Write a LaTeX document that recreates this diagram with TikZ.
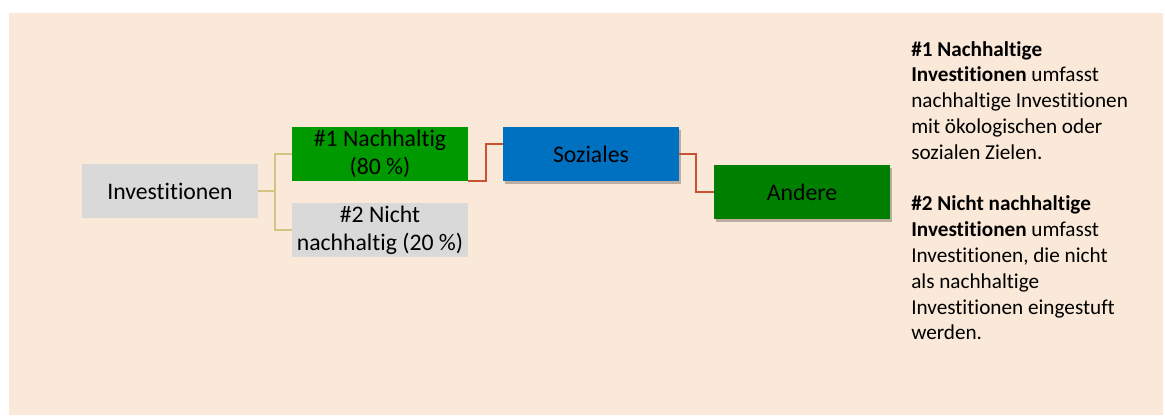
\documentclass[tikz,border=0pt]{standalone}
\usepackage{fontspec}
\setmainfont{Carlito}[Ligatures=NoCommon]
\usetikzlibrary{shadows}
\definecolor{bgpeach}{RGB}{250,232,216}
\definecolor{boxgray}{RGB}{217,217,217}
\definecolor{greenA}{RGB}{0,153,0}
\definecolor{greenB}{RGB}{0,128,0}
\definecolor{blueS}{RGB}{0,112,192}
\definecolor{khaki}{RGB}{212,196,130}
\definecolor{redline}{RGB}{200,82,50}
\tikzset{
  box/.style={rectangle, minimum width=132pt, minimum height=40.5pt, inner sep=0pt,
    align=center, font=\fontsize{17.8}{21}\selectfont, text=black},
  shadowed/.style={drop shadow={shadow xshift=1.6pt, shadow yshift=-2pt, opacity=0.25, fill=black}},
  khakiline/.style={draw=khaki, line width=1.3pt},
  redconn/.style={draw=redline, line width=1.5pt},
  noteline/.style={anchor=base west, inner sep=0pt, font=\fontsize{15.9}{19.4}\selectfont}
}
\begin{document}
\begin{tikzpicture}[x=0.75pt, y=-0.75pt]
\useasboundingbox (0,0) rectangle (1165,415);
\fill[bgpeach] (9,13) rectangle (1163,415);

\node[box, fill=boxgray] (inv) at (170,191) {Investitionen};
\node[box, fill=greenA] (n1) at (380,154) {\#1 Nachhaltig\\(80~\%)};
\node[box, fill=boxgray] (n2) at (380,230) {\#2 Nicht\\nachhaltig (20~\%)};
\node[box, fill=blueS, shadowed] (soz) at (591,154) {Soziales};
\node[box, fill=greenB, shadowed] (and) at (802,192) {Andere};

\coordinate (fork) at (275,191);
\draw[khakiline] (inv.east) -- (fork);
\draw[khakiline] (fork) |- (n1.west);
\draw[khakiline] (fork) |- (n2.west);

\draw[redconn] (n1.south east) -- ++(18,0) |- ([yshift=7.5pt]soz.west);
\draw[redconn] (soz.east) -- ++(17,0) |- (and.west);

\node[noteline] (l1) at (911,56) {\textbf{\#1 Nachhaltige}};
\node[noteline] (l2) at (911,81.8) {\textbf{Investitionen} umfasst};
\node[noteline] (l3) at (911,107.6) {nachhaltige Investitionen};
\node[noteline] (l4) at (911,133.4) {mit ökologischen oder};
\node[noteline] (l5) at (911,159.2) {sozialen Zielen.};
\node[noteline] (l6) at (911,210.8) {\textbf{\#2 Nicht nachhaltige}};
\node[noteline] (l7) at (911,236.6) {\textbf{Investitionen} umfasst};
\node[noteline] (l8) at (911,262.4) {Investitionen, die nicht};
\node[noteline] (l9) at (911,288.2) {als nachhaltige};
\node[noteline] (l10) at (911,314) {Investitionen eingestuft};
\node[noteline] (l11) at (911,339.8) {werden.};
\end{tikzpicture}
\end{document}
